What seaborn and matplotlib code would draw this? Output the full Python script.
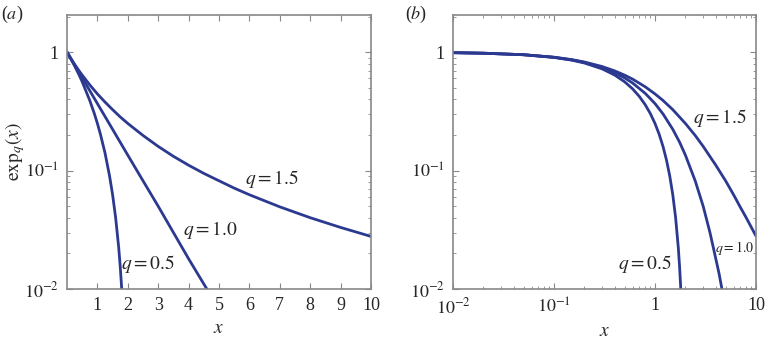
import numpy as np
import pandas as pd
import matplotlib
matplotlib.use("Agg")
import matplotlib.pyplot as plt
import matplotlib.ticker as mticker
import seaborn as sns

# --- values ---
# panel (a): linear x
xa_15 = [0, 0.1, 0.25, 0.4, 0.5, 0.75, 1, 1.25, 1.5, 1.75, 2, 2.5, 3, 3.5, 4, 4.5, 5, 5.5, 6, 7, 8, 9, 10]
ya_15 = [1, 0.907, 0.79, 0.694, 0.64, 0.529, 0.444, 0.379, 0.327, 0.284, 0.25, 0.198, 0.16, 0.132,
         0.111, 0.0947, 0.082, 0.0711, 0.0625, 0.0494, 0.04, 0.0331, 0.0278]
xa_10 = [0, 0.5, 1, 1.5, 2, 2.5, 3, 3.5, 4, 4.6, 4.8]
ya_10 = [1, 0.607, 0.368, 0.223, 0.135, 0.082, 0.050, 0.030, 0.018, 0.010, 0.0082]
xa_05 = [0, 0.1, 0.25, 0.4, 0.5, 0.75, 0.9, 1, 1.1, 1.25, 1.4, 1.5, 1.6, 1.7, 1.75, 1.8, 1.85]
ya_05 = [1, 0.9025, 0.766, 0.64, 0.5625, 0.39, 0.3025, 0.25, 0.2025, 0.141, 0.09, 0.0625, 0.04,
         0.0225, 0.0156, 0.010, 0.0056]

# panel (b): log x
xb_15 = [0.01, 0.02, 0.05, 0.1, 0.15, 0.2, 0.3, 0.4, 0.5, 0.6, 0.8, 1, 1.2, 1.5, 2, 2.5, 3, 4, 5, 6, 7, 8, 10]
yb_15 = [0.990, 0.980, 0.952, 0.907, 0.865, 0.826, 0.756, 0.694, 0.64, 0.592, 0.510, 0.444, 0.391,
         0.327, 0.25, 0.198, 0.16, 0.111, 0.082, 0.0625, 0.049, 0.04, 0.028]
xb_10 = [0.01, 0.02, 0.05, 0.1, 0.15, 0.2, 0.3, 0.4, 0.5, 0.6, 0.8, 1, 1.2, 1.5, 1.75, 2, 2.5, 3, 3.5, 4, 4.3, 4.6, 4.8]
yb_10 = [0.990, 0.980, 0.951, 0.905, 0.861, 0.819, 0.741, 0.670, 0.607, 0.549, 0.449, 0.368, 0.301,
         0.223, 0.174, 0.135, 0.082, 0.050, 0.030, 0.018, 0.0136, 0.010, 0.0082]
xb_05 = [0.01, 0.02, 0.05, 0.1, 0.15, 0.2, 0.3, 0.4, 0.5, 0.6, 0.7, 0.8, 0.9, 1, 1.1, 1.2, 1.3, 1.4,
         1.5, 1.6, 1.7, 1.75, 1.8, 1.85]
yb_05 = [0.990, 0.980, 0.951, 0.9025, 0.856, 0.81, 0.7225, 0.64, 0.5625, 0.49, 0.4225, 0.36, 0.3025,
         0.25, 0.2025, 0.16, 0.1225, 0.09, 0.0625, 0.04, 0.0225, 0.0156, 0.010, 0.0056]

xticks_a = [1, 2, 3, 4, 5, 6, 7, 8, 9, 10]
yticks = [0.01, 0.1, 1]
ytick_labels = [r"$10^{-2}$", r"$10^{-1}$", "1"]
xticks_b = [0.01, 0.1, 1, 10]
xtick_labels_b = [r"$10^{-2}$", r"$10^{-1}$", "1", "10"]

line_color = "#2b3990"
spine_color = "#888888"

sns.set_theme(style="ticks")
plt.rcParams["font.family"] = ["Liberation Serif", "DejaVu Serif"]
plt.rcParams["mathtext.fontset"] = "stix"

fig = plt.figure(figsize=(7.65, 3.39), dpi=100)
ax_a = fig.add_axes([67 / 765, 1 - 289 / 339, 304 / 765, 274 / 339])
ax_b = fig.add_axes([453 / 765, 1 - 289 / 339, 303 / 765, 274 / 339])

for xs, ys in [(xa_15, ya_15), (xa_10, ya_10), (xa_05, ya_05)]:
    sns.lineplot(x=xs, y=ys, ax=ax_a, color=line_color, lw=2, estimator=None, sort=False)
for xs, ys in [(xb_15, yb_15), (xb_10, yb_10), (xb_05, yb_05)]:
    sns.lineplot(x=xs, y=ys, ax=ax_b, color=line_color, lw=2, estimator=None, sort=False)

for ax in (ax_a, ax_b):
    ax.set_yscale("log")
    ax.set_ylim(0.01, 2.06)
    ax.set_yticks(yticks)
    ax.set_yticklabels(ytick_labels)
    ax.yaxis.set_minor_locator(mticker.LogLocator(base=10, subs=np.arange(2, 10)))
    ax.yaxis.set_minor_formatter(mticker.NullFormatter())
    ax.tick_params(which="both", direction="in", top=True, right=True,
                   color=spine_color, labelsize=13, pad=6)
    ax.tick_params(which="major", length=4, width=0.8)
    ax.tick_params(which="minor", length=2, width=0.6)
    for s in ax.spines.values():
        s.set_visible(True)
        s.set_color(spine_color)
        s.set_linewidth(1.2)
    ax.set_xlabel(r"$x$", fontsize=14, labelpad=4)

ax_a.set_xlim(0, 10)
ax_a.set_xticks(xticks_a)
ax_a.set_ylabel(r"$\mathrm{exp}_q(x)$", fontsize=14, va="center")
ax_a.yaxis.set_label_coords(-0.17, 0.5)

ax_b.set_xscale("log")
ax_b.set_xlim(0.01, 10)
ax_b.set_xticks(xticks_b)
ax_b.set_xticklabels(xtick_labels_b)
ax_b.xaxis.set_minor_locator(mticker.LogLocator(base=10, subs=np.arange(2, 10)))
ax_b.xaxis.set_minor_formatter(mticker.NullFormatter())
ax_b.set_ylabel("")

# curve labels
ax_a.text(6.75, 0.085, r"$q = 1.5$", fontsize=14, ha="center", va="center")
ax_a.text(4.7, 0.0316, r"$q = 1.0$", fontsize=14, ha="center", va="center")
ax_a.text(2.65, 0.0163, r"$q = 0.5$", fontsize=14, ha="center", va="center")
ax_b.text(4.4, 0.276, r"$q = 1.5$", fontsize=14, ha="center", va="center")
ax_b.text(6.2, 0.0223, r"$q = 1.0$", fontsize=10, ha="center", va="center")
ax_b.text(0.79, 0.0163, r"$q = 0.5$", fontsize=14, ha="center", va="center")

# panel letters
fig.text(1 / 765, 1 - 14 / 339, r"($a$)", fontsize=13, ha="left", va="center")
fig.text(405 / 765, 1 - 14 / 339, r"($b$)", fontsize=13, ha="left", va="center")

fig.savefig("out.png", dpi=100)
